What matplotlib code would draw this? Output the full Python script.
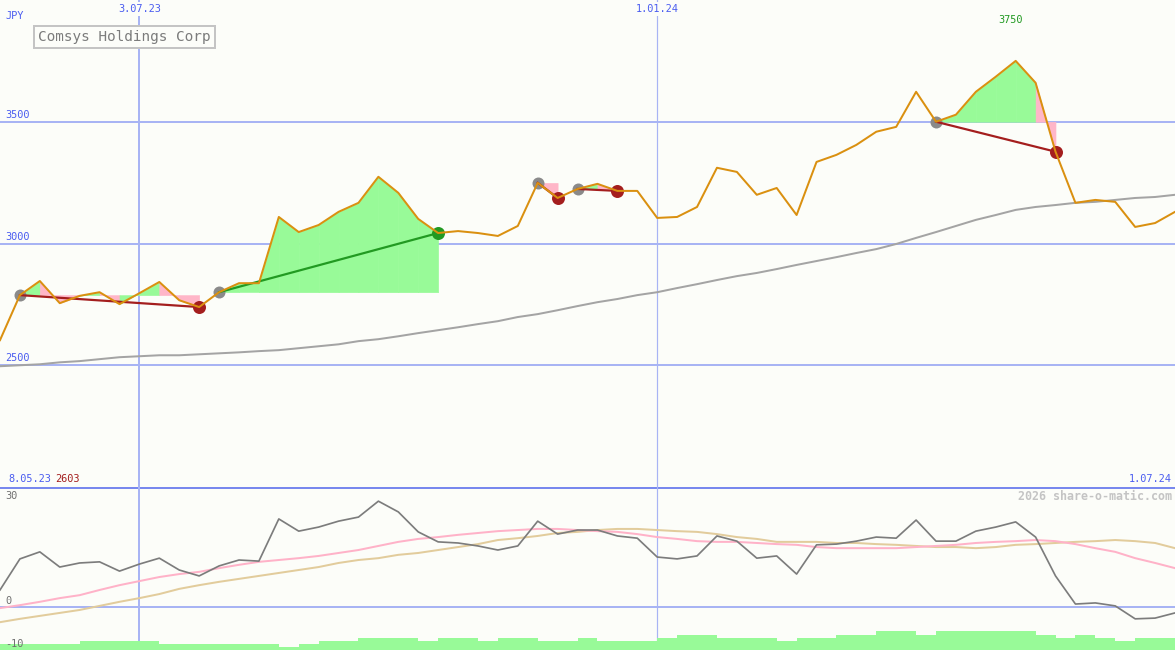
import numpy as np
import pandas as pd
import matplotlib
matplotlib.use("Agg")
import matplotlib.pyplot as plt
import matplotlib.transforms as mtransforms

# ---------- data (weekly) ----------
dates = pd.date_range("2023-05-15", periods=60, freq="7D")

price = [2603, 2788, 2846, 2755, 2785, 2800, 2751, 2796, 2842, 2767,
         2739, 2800, 2837, 2837, 3109, 3047, 3076, 3130, 3167, 3274,
         3208, 3101, 3043, 3051, 3043, 3031, 3072, 3249, 3187, 3224,
         3245, 3216, 3216, 3105, 3109, 3150, 3311, 3294, 3200, 3228,
         3117, 3335, 3364, 3405, 3459, 3479, 3623, 3500, 3529, 3623,
         3685, 3750, 3660, 3377, 3167, 3179, 3171, 3068, 3084, 3130]

price_ma = [2496, 2500, 2504, 2512, 2517, 2525, 2533, 2537, 2541, 2541,
            2545, 2549, 2553, 2558, 2562, 2570, 2578, 2586, 2599, 2607,
            2619, 2632, 2644, 2656, 2669, 2681, 2698, 2710, 2726, 2743,
            2759, 2772, 2788, 2800, 2817, 2833, 2850, 2866, 2879, 2895,
            2912, 2928, 2944, 2961, 2977, 2998, 3023, 3047, 3072, 3097,
            3117, 3138, 3150, 3158, 3167, 3171, 3179, 3187, 3191, 3200]

# trades: index of entry / exit week
trade_entry = [1, 11, 27, 29, 47]
trade_exit = [10, 22, 28, 31, 53]

osc = [4.6, 13.0, 14.9, 10.8, 11.9, 12.2, 9.7, 11.6, 13.2, 10.0,
       8.4, 11.1, 12.7, 12.4, 23.8, 20.5, 21.6, 23.2, 24.3, 28.6,
       25.7, 20.3, 17.6, 17.3, 16.5, 15.4, 16.5, 23.2, 19.7, 20.8,
       20.8, 19.2, 18.6, 13.5, 13.0, 13.8, 19.2, 17.8, 13.2, 13.8,
       8.9, 16.8, 17.0, 17.8, 18.9, 18.6, 23.5, 17.8, 17.8, 20.5,
       21.6, 23.0, 18.9, 8.4, 0.8, 1.1, 0.3, -3.2, -3.0, -1.6]

osc_fast = [-0.3, 0.5, 1.4, 2.4, 3.2, 4.6, 5.9, 7.0, 8.1, 8.9,
            9.5, 10.5, 11.4, 12.2, 12.7, 13.2, 13.8, 14.6, 15.4, 16.5,
            17.6, 18.4, 18.9, 19.5, 20.0, 20.5, 20.8, 21.1, 21.1, 20.8,
            20.5, 20.3, 19.7, 18.9, 18.4, 17.8, 17.6, 17.6, 17.3, 17.0,
            16.8, 16.2, 15.9, 15.9, 15.9, 15.9, 16.2, 16.5, 16.8, 17.3,
            17.6, 17.8, 18.1, 17.8, 17.0, 15.9, 14.9, 13.2, 11.9, 10.5]

osc_slow = [-4.1, -3.2, -2.4, -1.6, -0.8, 0.3, 1.4, 2.4, 3.5, 4.9,
            5.9, 6.8, 7.6, 8.4, 9.2, 10.0, 10.8, 11.9, 12.7, 13.2,
            14.1, 14.6, 15.4, 16.2, 17.0, 18.1, 18.6, 19.2, 20.0, 20.3,
            20.8, 21.1, 21.1, 20.8, 20.5, 20.3, 19.7, 18.9, 18.4, 17.6,
            17.6, 17.6, 17.3, 17.3, 17.0, 16.8, 16.5, 16.2, 16.2, 15.9,
            16.2, 16.8, 17.0, 17.3, 17.6, 17.8, 18.1, 17.8, 17.3, 15.9]

volume = [20, 20, 20, 20, 30, 30, 30, 30, 20, 20, 20, 20, 20, 20, 10, 20,
          30, 30, 40, 40, 40, 30, 40, 40, 30, 40, 40, 30, 30, 40, 30, 30,
          30, 40, 50, 50, 40, 40, 40, 30, 40, 40, 50, 50, 63, 63, 50, 63,
          63, 63, 63, 63, 50, 40, 50, 40, 30, 40, 40]

price_grid = [2500, 3000, 3500]
date_grid = ["2023-07-03", "2024-01-01"]
date_grid_labels = ["3.07.23", "1.01.24"]
range_start_label = "8.05.23"
range_end_label = "1.07.24"

# ---------- style ----------
BG = "#fcfdf9"
GRID = "#a8b4f4"
SEP = "#7888ee"
LABEL_BLUE = "#4a5cf0"
ORANGE = "#da9010"
FILL_UP = "#98fa98"
FILL_DN = "#ffb6c8"
LOSS = "#a41e1e"
GAIN = "#229a22"
MONO = "DejaVu Sans Mono"
PX = 0.72  # points per pixel at dpi 100

x = (dates - dates[0]).days.values / 7.0
price = np.array(price, dtype=float)

fig = plt.figure(figsize=(11.75, 6.5), dpi=100, facecolor=BG)
ax = fig.add_axes([0, 163 / 650, 1, 487 / 650])
ax2 = fig.add_axes([0, 0, 1, 163 / 650])
for a in (ax, ax2):
    a.set_facecolor(BG)
    a.set_xlim(x[0], x[-1])
    a.set_xticks([])
    a.set_yticks([])
    for s in a.spines.values():
        s.set_visible(False)
ax.set_ylim(2000, 4000)
ax2.set_ylim(-11.62, 32.43)

# ---------- grid ----------
for lvl in price_grid:
    ax.axhline(lvl, color=GRID, lw=2 * PX, zorder=1)
    ax.annotate(str(lvl), xy=(0, lvl), xycoords=("axes fraction", "data"),
                xytext=(5, 2), textcoords="offset pixels", ha="left", va="bottom",
                color=LABEL_BLUE, fontsize=7.4, family=MONO, zorder=6)
ax2.axhline(0, color=GRID, lw=2 * PX, zorder=1)
ax2.axhline(32.43, color=SEP, lw=3 * PX, zorder=1)

top = mtransforms.blended_transform_factory(ax.transData, ax.transAxes)
for i, (d, lab) in enumerate(zip(date_grid, date_grid_labels)):
    xd = (pd.Timestamp(d) - dates[0]).days / 7.0
    w = 2 if i == 0 else 1.2
    ax.axvline(xd, color=GRID, lw=w * PX, zorder=1)
    ax2.axvline(xd, color=GRID, lw=w * PX, zorder=1)
    ax.text(xd, 1 - 9 / 487, lab, transform=top, ha="center", va="center",
            color=LABEL_BLUE, fontsize=7.4, family=MONO, zorder=6,
            bbox=dict(boxstyle="square,pad=0.15", fc=BG, ec="none"))

# ---------- price panel ----------
ax.plot(x, price_ma, color="#a4a4a4", lw=2 * PX, zorder=3)

for e, q in zip(trade_entry, trade_exit):
    ep = price[e]
    for k in range(e, q):
        col = FILL_UP if price[k + 1] >= ep else FILL_DN
        ax.fill_between(x[k:k + 2], [ep, ep], price[k:k + 2], color=col,
                        lw=0.4, edgecolor=col, zorder=2)

for e, q in zip(trade_entry, trade_exit):
    col = GAIN if price[q] > price[e] else LOSS
    ax.plot(x[e], price[e], "o", color="#8a8a8a", ms=12 * PX, mec="none", zorder=4)
    ax.plot(x[q], price[q], "o", color=col, ms=13 * PX, mec="none", zorder=4)
    ax.plot([x[e], x[q]], [price[e], price[q]], color=col, lw=2.2 * PX, zorder=5)

ax.plot(x, price, color=ORANGE, lw=2 * PX, zorder=6)

imax = int(np.argmax(price))
imin = int(np.argmin(price))
ax.annotate(f"{price[imax]:.0f}", xy=(x[imax], 1 - 20 / 487), xycoords=top,
            xytext=(-5, 0), textcoords="offset pixels", ha="center", va="center",
            color=GAIN, fontsize=7.4, family=MONO)

ax.text(5 / 1175, 1 - 16 / 487, "JPY", transform=ax.transAxes, ha="left",
        va="center", color=LABEL_BLUE, fontsize=7.4, family=MONO)
ax.text(38 / 1175, 1 - 37 / 487, "Comsys Holdings Corp", transform=ax.transAxes,
        ha="left", va="center", color="#7c7c7c", fontsize=10.4, family=MONO,
        zorder=8, bbox=dict(boxstyle="square,pad=0.28", fc=BG, ec="#c4c4c4", lw=2 * PX))

ax.text(8 / 1175, 8 / 487, range_start_label, transform=ax.transAxes, ha="left",
        va="center", color=LABEL_BLUE, fontsize=7.4, family=MONO)
ax.text(55 / 1175, 8 / 487, f"{price[imin]:.0f}", transform=ax.transAxes,
        ha="left", va="center", color=LOSS, fontsize=7.4, family=MONO)
ax.text(1 - 3 / 1175, 8 / 487, range_end_label, transform=ax.transAxes, ha="right",
        va="center", color=LABEL_BLUE, fontsize=7.4, family=MONO)

# ---------- lower panel ----------
ax2.plot(x, osc_slow, color="#e2cc9c", lw=2 * PX, zorder=3)
ax2.plot(x, osc_fast, color="#ffb2c8", lw=2 * PX, zorder=3)
ax2.plot(x, osc, color="#7c7c7c", lw=1.7 * PX, zorder=4)

axv = ax2.twinx()
axv.set_ylim(0, 543)
axv.set_xlim(x[0], x[-1])
axv.axis("off")
axv.bar(x[:-1] + 0.5, volume, width=1.0, color=FILL_UP, lw=0, zorder=2)

for val, va, dy in [(30, "center", 0), (0, "bottom", 1), (-10, "center", 0)]:
    axv.annotate(str(val), xy=(0, val), xycoords=("axes fraction", ax2.transData),
                 xytext=(5, dy), textcoords="offset pixels", ha="left", va=va,
                 color="#707070", fontsize=7.4, family=MONO, zorder=6)
axv.text(1 - 3 / 1175, 1 - 9 / 163, "2026 share-o-matic.com", transform=ax2.transAxes,
         ha="right", va="center", color="#c4c4c4", fontsize=8.4, family=MONO,
         weight="bold")

fig.savefig("out.png", dpi=100, facecolor=BG)
